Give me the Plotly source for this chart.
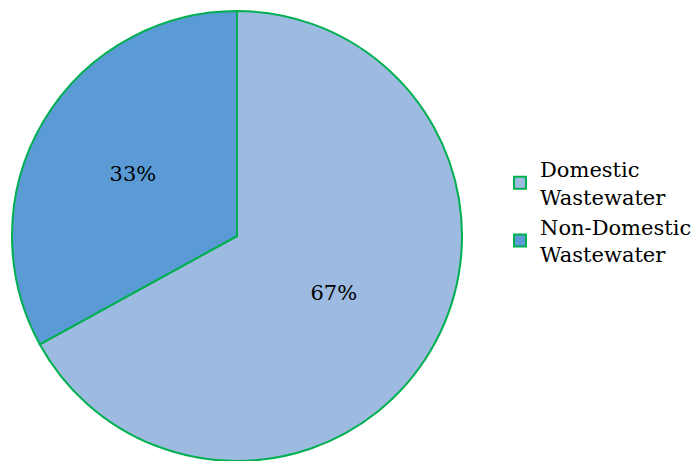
import plotly.graph_objects as go

labels = ["Domestic<br>Wastewater", "Non-Domestic<br>Wastewater"]
values = [67, 33]
colors = ["#9DBBE1", "#5B9BD5"]

W, H = 699, 461
cx, cy, r = 237, 236, 225
SERIF = "DejaVu Serif"

fig = go.Figure(go.Pie(
    labels=labels,
    values=values,
    sort=False,
    direction="clockwise",
    rotation=0,
    marker=dict(colors=colors, line=dict(color="#00B050", width=2)),
    textinfo="percent",
    texttemplate="%{percent:.0%}",
    textposition="inside",
    insidetextorientation="horizontal",
    textfont=dict(family=SERIF, size=21, color="#000000"),
    domain=dict(x=[(cx - r) / W, (cx + r) / W], y=[(H - cy - r) / H, (H - cy + r) / H]),
    showlegend=True,
))

fig.update_layout(
    width=W, height=H,
    margin=dict(l=0, r=0, t=0, b=0),
    paper_bgcolor="white",
    plot_bgcolor="white",
    font=dict(family=SERIF, size=21, color="#000000"),
    legend=dict(
        x=500 / W, y=(H - 212) / H, xanchor="left", yanchor="middle",
        font=dict(family=SERIF, size=21, color="#000000"),
        itemwidth=30, tracegroupgap=0,
    ),
)

fig.write_html("out.html")
